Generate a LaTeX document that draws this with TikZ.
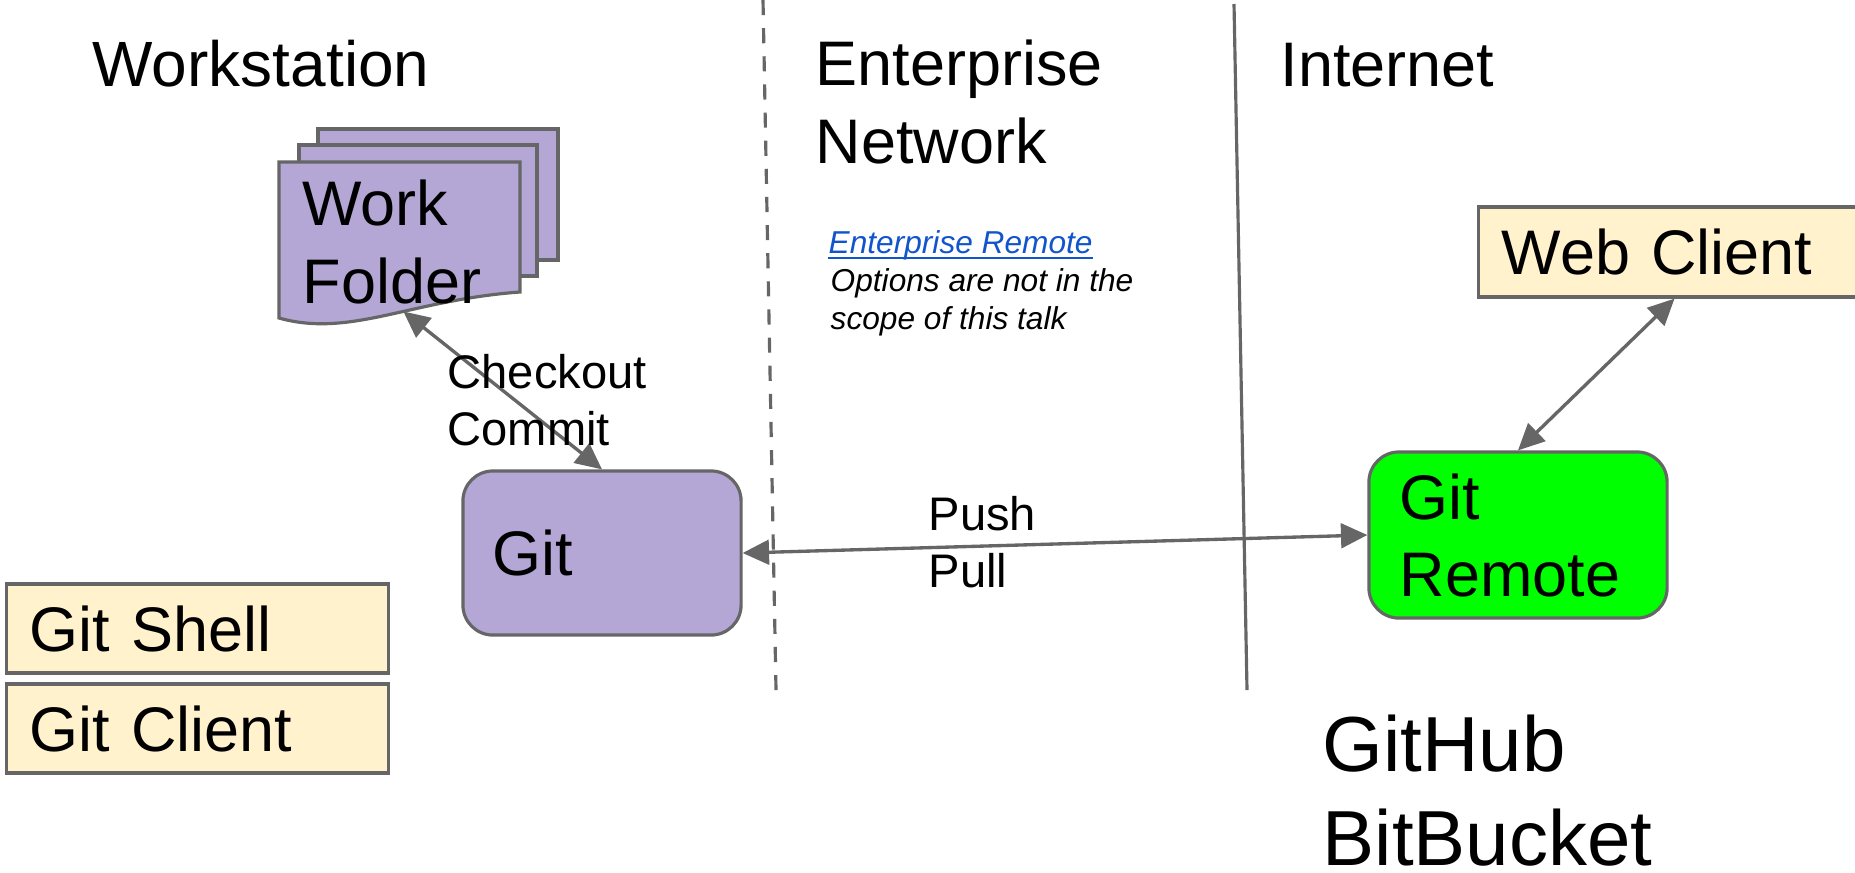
\documentclass[tikz,border=0pt]{standalone}
\usepackage{fontspec}
\setmainfont{Liberation Sans}
\usetikzlibrary{arrows.meta}
\definecolor{lav}{HTML}{B4A7D6}
\definecolor{cream}{HTML}{FFF2CC}
\definecolor{lime}{HTML}{00FF00}
\definecolor{linegray}{HTML}{666666}
\definecolor{linkblue}{HTML}{1155CC}
\tikzset{
  txtbig/.style={font=\fontsize{17.9pt}{21.9pt}\selectfont},
  txtmid/.style={font=\fontsize{13.4pt}{16.1pt}\selectfont},
  txthuge/.style={font=\fontsize{22.2pt}{26.5pt}\selectfont},
  txtsmall/.style={font=\fontsize{9pt}{10.8pt}\selectfont\itshape},
  plain/.style={anchor=base west, inner sep=0pt, align=left},
  box/.style={draw=linegray, line width=0.9pt, txtbig, align=left, inner ysep=0pt},
  page/.style={draw=linegray, line width=0.9pt, fill=lav},
  twoway/.style={draw=linegray, line width=0.95pt,
    {Triangle[length=7.5pt,width=7pt]}-{Triangle[length=7.5pt,width=7pt]}},
}

\begin{document}
\begin{tikzpicture}[x=0.01cm, y=-0.01cm]
\useasboundingbox (0,0) rectangle (1855,872);
\draw[linegray, line width=0.9pt, dash pattern=on 4.3pt off 3.7pt] (763,0) -- (776,690);
\draw[linegray, line width=0.9pt] (1234,4) -- (1247,690);
\node[plain, txtbig, font=\fontsize{18.2pt}{21.9pt}\selectfont] (ws) at (92,86) {Workstation};
\node[plain, txtbig] (ent) at (815,163) {Enterprise\\Network};
\node[plain, txtbig] (inet) at (1280,86) {Internet};
\node[plain, txtsmall, text=linkblue] (entlink) at (828,253) {Enterprise Remote};
\draw[linkblue, line width=0.6pt] ([yshift=-1.3pt]entlink.base west) -- ([yshift=-1.3pt]entlink.base east);
\node[plain, txtsmall] (entnote) at (830,329) {Options are not in the\\scope of this talk};
\draw[page] (318,129) rectangle (558,260);
\draw[page] (299,145) rectangle (537,276);
\draw[page] (279,162) -- (520,162) -- (520,292)
  .. controls (410,300) and (350,338) .. coordinate[pos=0.42] (wfbot) (279,318) -- cycle;
\node[plain, txtbig] (wf) at (302,303) {Work\\Folder};
\node[box, fill=lav, rounded corners=0.3cm, minimum width=2.78cm, minimum height=1.64cm,
  inner xsep=0.3cm, text width=2.18cm] (git) at (602,553) {Git};
\node[box, fill=lime, rounded corners=0.3cm, minimum width=2.98cm, minimum height=1.66cm,
  inner xsep=0.31cm, text width=2.36cm] (remote) at (1518,535) {Git\\Remote};
\node[box, fill=cream, minimum width=3.91cm, minimum height=0.9cm,
  inner xsep=0.23cm, text width=3.45cm] (web) at (1674.5,252) {Web Client};
\node[box, fill=cream, minimum width=3.81cm, minimum height=0.89cm,
  inner xsep=0.23cm, text width=3.35cm] (shell) at (197.5,628.5) {Git Shell};
\node[box, fill=cream, minimum width=3.81cm, minimum height=0.89cm,
  inner xsep=0.23cm, text width=3.35cm] (client) at (197.5,728.5) {Git Client};
\draw[twoway] (wfbot) -- (git.north);
\draw[twoway] (git.east) -- (remote.west);
\draw[twoway] (remote.north) -- (web.south);
\node[plain, txtmid] (co) at (447,445) {Checkout\\Commit};
\node[plain, txtmid] (pp) at (928,587) {Push\\Pull};
\node[plain, txthuge] (hosts) at (1322,865) {GitHub\\BitBucket};
\end{tikzpicture}
\end{document}
